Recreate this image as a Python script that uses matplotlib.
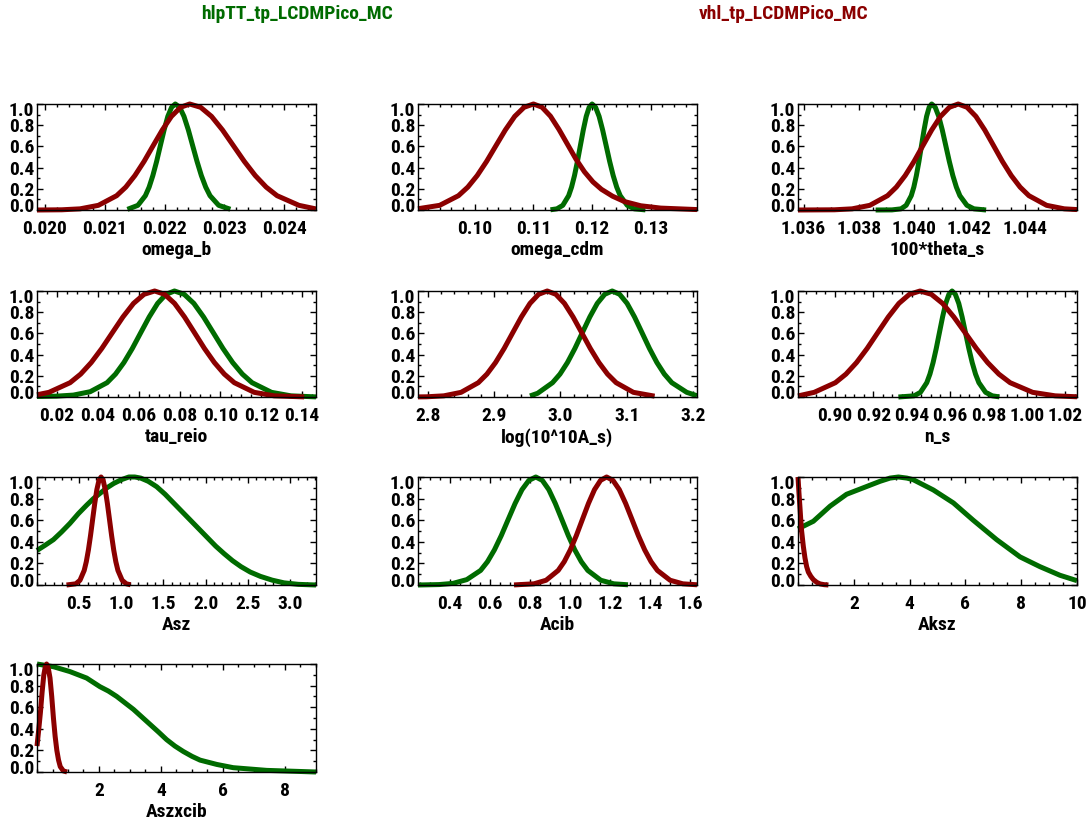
import matplotlib
matplotlib.use('Agg')
import matplotlib.pyplot as plt
from matplotlib import font_manager
from matplotlib.ticker import AutoMinorLocator, MultipleLocator
from matplotlib.transforms import ScaledTranslation

# IDL-ish narrow bold Helvetica; use a narrow face if one is around
installed = {f.name for f in font_manager.fontManager.ttflist}
narrow = [f for f in ['Liberation Sans Narrow', 'Roboto Condensed', 'Arial Narrow'] if f in installed]
if narrow:
    plt.rcParams['font.family'] = [narrow[0], 'DejaVu Sans']
    fs_tick, fs_title = 14, 14
else:
    plt.rcParams['font.family'] = ['Liberation Sans', 'DejaVu Sans']
    fs_tick, fs_title = 11.5, 12.5
plt.rcParams['font.weight'] = 'bold'

GREEN = '#006b00'
RED = '#8b0000'

# ---- data (normalised 1D posteriors) ----
# omega_b
omega_b_x_hl = [0.02138, 0.021555, 0.02168, 0.021743, 0.021805, 0.021868, 0.02193, 0.021993,
                0.022055, 0.022118, 0.02218, 0.022253, 0.022325, 0.022398, 0.02247, 0.022543,
                0.022615, 0.022688, 0.02276, 0.022905, 0.0231]
omega_b_y_hl = [0.006, 0.044, 0.135, 0.216, 0.325, 0.458, 0.607, 0.755, 0.883, 0.969, 1.0,
                0.969, 0.883, 0.755, 0.607, 0.458, 0.325, 0.216, 0.135, 0.044, 0.007]
omega_b_x_vhl = [0.01987, 0.020285, 0.02059, 0.020895, 0.0212, 0.021353, 0.021505, 0.021658,
                 0.02181, 0.021963, 0.022115, 0.022268, 0.02242, 0.022603, 0.022785, 0.022968,
                 0.02315, 0.023333, 0.023515, 0.023698, 0.02388, 0.024245, 0.02453]
omega_b_y_vhl = [0.0, 0.002, 0.011, 0.044, 0.135, 0.216, 0.325, 0.458, 0.607, 0.755, 0.883,
                 0.969, 1.0, 0.969, 0.883, 0.755, 0.607, 0.458, 0.325, 0.216, 0.135, 0.044, 0.01]

# omega_cdm
omega_cdm_x_hl = [0.1129, 0.1140, 0.1150, 0.1160, 0.1165, 0.1170, 0.1175, 0.1180, 0.1185,
                  0.1190, 0.1195, 0.1200, 0.1206, 0.1212, 0.1218, 0.1224, 0.1230, 0.1236,
                  0.1242, 0.1248, 0.1260, 0.1272, 0.1291]
omega_cdm_y_hl = [0.002, 0.011, 0.044, 0.135, 0.216, 0.325, 0.458, 0.607, 0.755, 0.883, 0.969,
                  1.0, 0.969, 0.883, 0.755, 0.607, 0.458, 0.325, 0.216, 0.135, 0.044, 0.011, 0.001]
omega_cdm_x_vhl = [0.0903, 0.094, 0.0972, 0.0988, 0.1004, 0.102, 0.1036, 0.1052, 0.1068,
                   0.1084, 0.110, 0.11145, 0.1129, 0.11435, 0.1158, 0.11725, 0.1187, 0.12015,
                   0.1216, 0.1235, 0.1255, 0.1283, 0.1317, 0.1379]
omega_cdm_y_vhl = [0.012, 0.044, 0.135, 0.216, 0.325, 0.458, 0.607, 0.755, 0.883, 0.969, 1.0,
                   0.97, 0.885, 0.76, 0.62, 0.48, 0.36, 0.265, 0.195, 0.13, 0.08, 0.04, 0.018, 0.004]

# 100*theta_s
theta_x_hl = [1.03861, 1.0392, 1.03953, 1.039715, 1.0399, 1.039993, 1.040085, 1.040178,
              1.04027, 1.040363, 1.040455, 1.040548, 1.04064, 1.040768, 1.040895, 1.041023,
              1.04115, 1.041278, 1.041405, 1.041533, 1.04166, 1.041915, 1.04217, 1.04261]
theta_y_hl = [0.0, 0.001, 0.011, 0.044, 0.135, 0.216, 0.325, 0.458, 0.607, 0.755, 0.883, 0.969,
              1.0, 0.969, 0.883, 0.755, 0.607, 0.458, 0.325, 0.216, 0.135, 0.044, 0.011, 0.0]
theta_x_vhl = [1.0358, 1.03712, 1.03776, 1.0384, 1.03904, 1.03936, 1.03968, 1.04, 1.04032,
               1.04064, 1.04096, 1.04128, 1.0416, 1.04192, 1.04224, 1.04256, 1.04288, 1.0432,
               1.04352, 1.04384, 1.04416, 1.0448, 1.04544, 1.0459]
theta_y_vhl = [0.0, 0.002, 0.011, 0.044, 0.135, 0.216, 0.325, 0.458, 0.607, 0.755, 0.883, 0.969,
               1.0, 0.969, 0.883, 0.755, 0.607, 0.458, 0.325, 0.216, 0.135, 0.044, 0.011, 0.004]

# tau_reio
tau_x_hl = [0.0102, 0.01975, 0.028, 0.03625, 0.0445, 0.048625, 0.05275, 0.056875, 0.061,
            0.065125, 0.06925, 0.073375, 0.0775, 0.08225, 0.087, 0.09175, 0.0965, 0.10125,
            0.106, 0.11075, 0.1155, 0.125, 0.1345, 0.1468]
tau_y_hl = [0.005, 0.008, 0.018, 0.05, 0.135, 0.216, 0.325, 0.458, 0.607, 0.755, 0.883, 0.969,
            1.0, 0.969, 0.883, 0.755, 0.607, 0.458, 0.325, 0.216, 0.135, 0.044, 0.011, 0.001]
tau_x_vhl = [0.0102, 0.01605, 0.0264, 0.031575, 0.03675, 0.041925, 0.0471, 0.052275, 0.05745,
             0.062625, 0.0678, 0.072675, 0.07755, 0.082425, 0.0873, 0.092175, 0.09705,
             0.101925, 0.1068, 0.11655, 0.1263, 0.141]
tau_y_vhl = [0.021, 0.044, 0.135, 0.216, 0.325, 0.458, 0.607, 0.755, 0.883, 0.969, 1.0,
             0.969, 0.883, 0.755, 0.607, 0.458, 0.325, 0.216, 0.135, 0.044, 0.011, 0.001]

# log(10^10 A_s)
logA_x_hl = [2.954, 2.9655, 2.988, 2.99925, 3.0105, 3.02175, 3.033, 3.04425, 3.0555, 3.06675,
             3.078, 3.08925, 3.1005, 3.11175, 3.123, 3.13425, 3.1455, 3.15675, 3.168, 3.1905, 3.206]
logA_y_hl = [0.01, 0.035, 0.135, 0.216, 0.325, 0.458, 0.607, 0.755, 0.883, 0.969, 1.0,
             0.969, 0.883, 0.755, 0.607, 0.458, 0.325, 0.216, 0.135, 0.044, 0.012]
logA_x_vhl = [2.785, 2.798, 2.824, 2.85, 2.876, 2.889, 2.902, 2.915, 2.928, 2.941, 2.954, 2.967,
              2.98, 2.993, 3.006, 3.019, 3.032, 3.045, 3.058, 3.071, 3.084, 3.11, 3.142]
logA_y_vhl = [0.001, 0.002, 0.011, 0.044, 0.135, 0.216, 0.325, 0.458, 0.607, 0.755, 0.883, 0.969,
              1.0, 0.969, 0.883, 0.755, 0.607, 0.458, 0.325, 0.216, 0.135, 0.044, 0.008]

# n_s
ns_x_hl = [0.9331, 0.9413, 0.9446, 0.9479, 0.94955, 0.9512, 0.95285, 0.9545, 0.95615, 0.9578,
           0.95945, 0.9611, 0.9628, 0.9646, 0.96635, 0.9681, 0.96985, 0.9716, 0.97335, 0.9751,
           0.9786, 0.9821, 0.9858]
ns_y_hl = [0.0, 0.011, 0.044, 0.135, 0.216, 0.325, 0.458, 0.607, 0.755, 0.883, 0.969, 1.0,
           0.969, 0.883, 0.755, 0.607, 0.458, 0.325, 0.216, 0.135, 0.044, 0.011, 0.001]
ns_x_vhl = [0.8807, 0.88915, 0.9002, 0.905725, 0.91125, 0.916775, 0.9223, 0.927825, 0.93335,
            0.938875, 0.9444, 0.950275, 0.95615, 0.962025, 0.9679, 0.973775, 0.97965, 0.985525,
            0.9914, 1.00315, 1.0149, 1.0263]
ns_y_vhl = [0.01, 0.044, 0.135, 0.216, 0.325, 0.458, 0.607, 0.755, 0.883, 0.969, 1.0,
            0.969, 0.883, 0.755, 0.607, 0.458, 0.325, 0.216, 0.135, 0.044, 0.011, 0.002]

# Asz
asz_x_hl = [0.0, 0.1, 0.195, 0.29, 0.39, 0.49, 0.59, 0.67, 0.75, 0.83, 0.91, 1.0, 1.09, 1.16,
            1.23, 1.32, 1.42, 1.52, 1.62, 1.72, 1.82, 1.92, 2.02, 2.12, 2.22, 2.32, 2.42, 2.53,
            2.65, 2.79, 2.93, 3.1, 3.31]
asz_y_hl = [0.32, 0.37, 0.42, 0.49, 0.57, 0.66, 0.74, 0.80, 0.85, 0.90, 0.94, 0.975, 1.0, 1.0,
            0.99, 0.96, 0.91, 0.84, 0.76, 0.68, 0.60, 0.52, 0.44, 0.36, 0.29, 0.225, 0.17, 0.12,
            0.08, 0.045, 0.02, 0.006, 0.0]
asz_x_vhl = [0.35, 0.46, 0.51, 0.56, 0.585, 0.61, 0.635, 0.66, 0.685, 0.71, 0.735, 0.76, 0.785,
             0.81, 0.835, 0.86, 0.885, 0.91, 0.935, 0.96, 1.01, 1.06, 1.11]
asz_y_vhl = [0.0, 0.011, 0.044, 0.135, 0.216, 0.325, 0.458, 0.607, 0.755, 0.883, 0.969, 1.0,
             0.969, 0.883, 0.755, 0.607, 0.458, 0.325, 0.216, 0.135, 0.044, 0.011, 0.002]

# Acib
acib_x_hl = [0.24, 0.346, 0.415, 0.484, 0.553, 0.5875, 0.622, 0.6565, 0.691, 0.7255, 0.76,
             0.7945, 0.829, 0.8615, 0.894, 0.9265, 0.959, 0.9915, 1.024, 1.0565, 1.089, 1.154,
             1.219, 1.29]
acib_y_hl = [0.0, 0.004, 0.015, 0.05, 0.135, 0.216, 0.325, 0.458, 0.607, 0.755, 0.883, 0.969,
             1.0, 0.969, 0.883, 0.755, 0.607, 0.458, 0.325, 0.216, 0.135, 0.044, 0.011, 0.002]
acib_x_vhl = [0.72, 0.82, 0.8805, 0.941, 0.97125, 1.0015, 1.03175, 1.062, 1.09225, 1.1225,
              1.15275, 1.183, 1.21475, 1.2465, 1.27825, 1.31, 1.34175, 1.3735, 1.40525, 1.437,
              1.5005, 1.564, 1.635]
acib_y_vhl = [0.0007, 0.011, 0.044, 0.135, 0.216, 0.325, 0.458, 0.607, 0.755, 0.883, 0.969,
              1.0, 0.969, 0.883, 0.755, 0.607, 0.458, 0.325, 0.216, 0.135, 0.044, 0.011, 0.002]

# Aksz
aksz_x_hl = [0.0, 0.55, 1.15, 1.74, 2.34, 2.94, 3.3, 3.6, 3.9, 4.13, 4.85, 5.57, 6.28, 7.12,
             7.96, 8.67, 9.39, 10.0]
aksz_y_hl = [0.52, 0.59, 0.73, 0.84, 0.90, 0.96, 0.99, 1.0, 0.99, 0.975, 0.88, 0.76, 0.60,
             0.42, 0.26, 0.17, 0.09, 0.04]
aksz_x_vhl = [0.0, 0.035, 0.07, 0.10, 0.13, 0.19, 0.25, 0.31, 0.37, 0.46, 0.55, 0.67, 0.79,
              0.94, 1.09]
aksz_y_vhl = [1.0, 0.85, 0.72, 0.6, 0.5, 0.36, 0.25, 0.17, 0.12, 0.08, 0.05, 0.025, 0.01,
              0.003, 0.0]

# Aszxcib
aszxcib_x_hl = [0.0, 0.53, 1.06, 1.6, 2.03, 2.3, 2.57, 2.84, 3.11, 3.38, 3.65, 3.92, 4.18,
                4.45, 4.72, 5.0, 5.26, 5.8, 6.33, 7.41, 9.0]
aszxcib_y_hl = [1.0, 0.975, 0.93, 0.87, 0.79, 0.75, 0.70, 0.64, 0.58, 0.51, 0.44, 0.37, 0.30,
                0.24, 0.19, 0.145, 0.11, 0.07, 0.04, 0.015, 0.0]
aszxcib_x_vhl = [0.0, 0.055, 0.11, 0.165, 0.22, 0.265, 0.31, 0.365, 0.42, 0.475, 0.53, 0.585,
                 0.64, 0.695, 0.75, 0.85, 0.97]
aszxcib_y_vhl = [0.24, 0.39, 0.55, 0.74, 0.90, 0.97, 1.0, 0.96, 0.87, 0.70, 0.5, 0.33, 0.2,
                 0.11, 0.05, 0.01, 0.0]

param_names = ['omega_b', 'omega_cdm', '100*theta_s', 'tau_reio', 'log(10^10A_s)', 'n_s',
               'Asz', 'Acib', 'Aksz', 'Aszxcib']
curves_hl = [(omega_b_x_hl, omega_b_y_hl), (omega_cdm_x_hl, omega_cdm_y_hl),
             (theta_x_hl, theta_y_hl), (tau_x_hl, tau_y_hl), (logA_x_hl, logA_y_hl),
             (ns_x_hl, ns_y_hl), (asz_x_hl, asz_y_hl), (acib_x_hl, acib_y_hl),
             (aksz_x_hl, aksz_y_hl), (aszxcib_x_hl, aszxcib_y_hl)]
curves_vhl = [(omega_b_x_vhl, omega_b_y_vhl), (omega_cdm_x_vhl, omega_cdm_y_vhl),
              (theta_x_vhl, theta_y_vhl), (tau_x_vhl, tau_y_vhl), (logA_x_vhl, logA_y_vhl),
              (ns_x_vhl, ns_y_vhl), (asz_x_vhl, asz_y_vhl), (acib_x_vhl, acib_y_vhl),
              (aksz_x_vhl, aksz_y_vhl), (aszxcib_x_vhl, aszxcib_y_vhl)]
xtick_labels = [['0.020', '0.021', '0.022', '0.023', '0.024'],
                ['0.10', '0.11', '0.12', '0.13'],
                ['1.036', '1.038', '1.040', '1.042', '1.044'],
                ['0.02', '0.04', '0.06', '0.08', '0.10', '0.12', '0.14'],
                ['2.8', '2.9', '3.0', '3.1', '3.2'],
                ['0.90', '0.92', '0.94', '0.96', '0.98', '1.00', '1.02'],
                ['0.5', '1.0', '1.5', '2.0', '2.5', '3.0'],
                ['0.4', '0.6', '0.8', '1.0', '1.2', '1.4', '1.6'],
                ['2', '4', '6', '8', '10'],
                ['2', '4', '6', '8']]
ytick_labels = ['0.0', '0.2', '0.4', '0.6', '0.8', '1.0']

# axes boxes in pixels
col_px = [(37, 316), (418, 697), (798, 1077)]
row_px = [(104, 210), (291, 397), (477, 585), (664, 772)]

W, H = 1091, 826
fig = plt.figure(figsize=(W / 100, H / 100), dpi=100)

for i, name in enumerate(param_names):
    r, c = divmod(i, 3)
    x0, x1 = col_px[c]
    y0, y1 = row_px[r]
    ax = fig.add_axes([x0 / W, 1 - y1 / H, (x1 - x0) / W, (y1 - y0) / H])

    xh, yh = curves_hl[i]
    xv, yv = curves_vhl[i]
    ax.plot(xh, yh, color=GREEN, lw=3.6, clip_on=False, solid_capstyle='butt', solid_joinstyle='round')
    ax.plot(xv, yv, color=RED, lw=3.6, clip_on=False, solid_capstyle='butt', solid_joinstyle='round')

    ax.set_xlim(min(min(xh), min(xv)), max(max(xh), max(xv)))
    ax.set_ylim(0, 1)

    ax.set_xticks([float(t) for t in xtick_labels[i]])
    ax.set_xticklabels(xtick_labels[i])
    ax.set_yticks([float(t) for t in ytick_labels])
    ax.set_yticklabels(ytick_labels)
    ax.xaxis.set_minor_locator(AutoMinorLocator())
    ax.yaxis.set_minor_locator(MultipleLocator(0.1))

    ax.tick_params(which='both', direction='in', top=True, right=True, width=1.0, colors='black')
    ax.tick_params(which='major', length=4)
    ax.tick_params(which='minor', length=2.2)
    ax.tick_params(axis='x', labelsize=fs_tick, pad=7.5)
    ax.tick_params(axis='y', labelsize=fs_tick, pad=2)
    for sp in ax.spines.values():
        sp.set_linewidth(1.0)

    ax.set_xlabel(name, fontsize=fs_tick, fontweight='bold', labelpad=2)

    # IDL pushes the end labels inside the box
    ylabs = ax.get_yticklabels()
    ylabs[0].set_transform(ylabs[0].get_transform() + ScaledTranslation(0, 0.05, fig.dpi_scale_trans))
    ylabs[-1].set_transform(ylabs[-1].get_transform() + ScaledTranslation(0, -0.05, fig.dpi_scale_trans))

fig.text(297 / W, 1 - 14 / H, 'hlpTT_tp_LCDMPico_MC', color=GREEN, fontsize=fs_title,
         fontweight='bold', ha='center', va='center')
fig.text(784 / W, 1 - 14 / H, 'vhl_tp_LCDMPico_MC', color=RED, fontsize=fs_title,
         fontweight='bold', ha='center', va='center')

fig.savefig('out.png', dpi=100)
